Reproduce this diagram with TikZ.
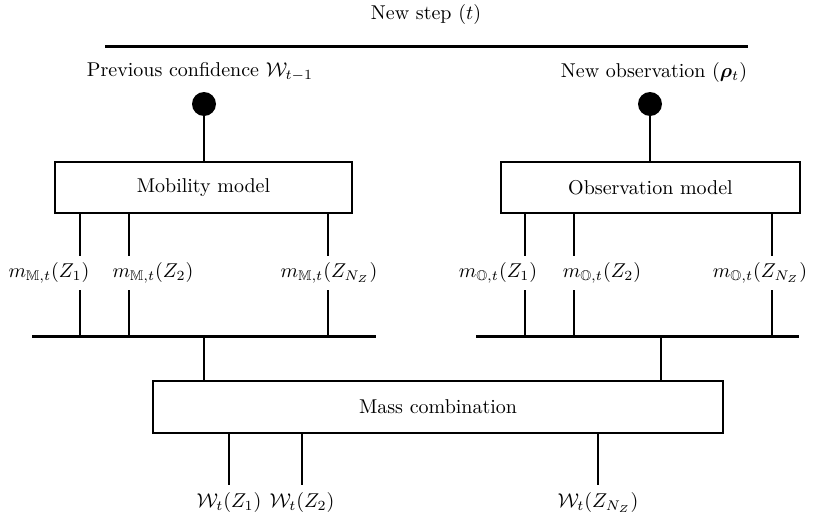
\documentclass[tikz,border=0pt]{standalone}
\usepackage{amsmath,amssymb,bm}

\begin{document}
\begin{tikzpicture}[x={(0.5pt,0pt)}, y={(0pt,-0.5pt)},
    box/.style={draw, line width=1pt, minimum height=51*0.5pt, inner sep=0pt},
    dot/.style={circle, fill=black, minimum size=12pt, inner sep=0pt},
    bar/.style={line width=1.5pt},
    link/.style={line width=1pt},
    lab/.style={fill=white}]
  \useasboundingbox (0,0) rectangle (816,520);

  % Time step
  \node (step) at (426,14) {New step $(t)$};
  \coordinate (stepL) at (105,46);
  \coordinate (stepR) at (748,46);
  \draw[bar] (stepL) -- (stepR);

  % Inputs
  \node (prev) at (200,72) {Previous confidence $\mathcal{W}_{t-1}$};
  \node (obs) at (654,72) {New observation $(\boldsymbol{\rho}_t)$};
  \node[dot] (prevdot) at (204,104) {};
  \node[dot] (obsdot) at (650,104) {};

  % Models
  \node[box, minimum width=297*0.5pt] (mob) at (203.5,187.5) {Mobility model};
  \node[box, minimum width=299*0.5pt] (obsmod) at (650.5,187.5) {Observation model};
  \draw[link] (prevdot) -- (prevdot |- mob.north);
  \draw[link] (obsdot) -- (obsdot |- obsmod.north);

  % Masses of the mobility model
  \foreach \x/\lx/\i/\z in {80/49/1/1, 129/153/2/2, 328/329/n/{N_Z}} {
      \coordinate (mm\i) at (\x,336);
      \draw[link] (mob.south -| mm\i) -- (mm\i);
      \node[lab] (mmlab\i) at (\lx,273) {$m_{\mathbb{M},t}(Z_{\z})$};
    }

  % Masses of the observation model
  \foreach \x/\lx/\i/\z in {525/498/1/1, 574/602/2/2, 772/760/n/{N_Z}} {
      \coordinate (mo\i) at (\x,336);
      \draw[link] (obsmod.south -| mo\i) -- (mo\i);
      \node[lab] (molab\i) at (\lx,273) {$m_{\mathbb{O},t}(Z_{\z})$};
    }

  % Bars
  \coordinate (mbarL) at (32,336);
  \coordinate (mbarR) at (376,336);
  \coordinate (obarL) at (476,336);
  \coordinate (obarR) at (799,336);
  \draw[bar] (mbarL) -- (mbarR);
  \draw[bar] (obarL) -- (obarR);

  % Combination
  \node[box, minimum width=570*0.5pt, minimum height=52*0.5pt] (mass) at (438,407) {Mass combination};
  \coordinate (mmid) at (204,336);
  \coordinate (omid) at (661,336);
  \draw[link] (mmid) -- (mmid |- mass.north);
  \draw[link] (omid) -- (omid |- mass.north);

  \foreach \x/\i/\z in {229/1/1, 302/2/2, 598/n/{N_Z}} {
      \coordinate (w\i) at (\x,485);
      \draw[link] (mass.south -| w\i) -- (w\i) node[below] (wlab\i) {$\mathcal{W}_t(Z_{\z})$};
    }

\end{tikzpicture}
\end{document}
